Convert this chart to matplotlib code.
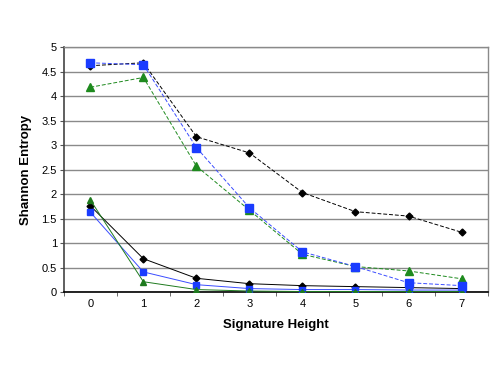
import matplotlib
matplotlib.use("Agg")
import matplotlib.pyplot as plt
import numpy as np

heights = [0, 1, 2, 3, 4, 5, 6, 7]
black_dashed = [4.62, 4.68, 3.17, 2.84, 2.03, 1.64, 1.55, 1.22]
blue_dashed = [4.68, 4.64, 2.95, 1.72, 0.82, 0.52, 0.19, 0.13]
green_dashed = [4.18, 4.38, 2.57, 1.67, 0.77, 0.52, 0.43, 0.27]
black_solid = [1.76, 0.68, 0.28, 0.17, 0.13, 0.11, 0.09, 0.07]
blue_solid = [1.63, 0.41, 0.15, 0.07, 0.05, 0.05, 0.04, 0.04]
green_solid = [1.88, 0.21, 0.05, 0.02, 0.01, 0.01, 0.01, 0.01]
yticks = [0, 0.5, 1, 1.5, 2, 2.5, 3, 3.5, 4, 4.5, 5]
ytick_labels = ["0", "0.5", "1", "1.5", "2", "2.5", "3", "3.5", "4", "4.5", "5"]

plt.rcParams['font.family'] = ['Liberation Sans', 'DejaVu Sans']

fig = plt.figure(figsize=(4.91, 3.68), dpi=100)
ax = fig.add_axes([0.130, 0.2065, 0.864, 0.6655])

x = np.array(heights)
ax.plot(x, black_solid, color='black', lw=0.7, marker='D', ms=3.5, zorder=3)
ax.plot(x, blue_solid, color='#3a4cff', lw=0.7, marker='s', ms=4.5, markerfacecolor='#1a3cff', markeredgecolor='#1a3cff', zorder=3)
ax.plot(x, green_solid, color='#1e7a1e', lw=0.7, marker='^', ms=5, zorder=3)
ax.plot(x, black_dashed, color='black', lw=0.7, ls=(0, (4, 2)), marker='D', ms=3.5, zorder=3)
ax.plot(x, green_dashed, color='#1e8a1e', lw=0.7, ls=(0, (4, 2)), marker='^', ms=5.5, zorder=3)
ax.plot(x, blue_dashed, color='#3a4cff', lw=0.7, ls=(0, (4, 2)), marker='s', ms=6, markerfacecolor='#1a3cff', markeredgecolor='#1a3cff', zorder=4)

ax.set_xlim(-0.5, 7.5)
ax.set_ylim(0, 5)
ax.set_yticks(yticks)
ax.set_yticklabels(ytick_labels, fontsize=8)
ax.set_xticks(x)
ax.set_xticklabels([str(h) for h in heights], fontsize=8)
ax.set_xticks(np.arange(-0.5, 8.0, 1.0), minor=True)
ax.tick_params(axis='x', which='major', length=0, pad=5)
ax.tick_params(axis='x', which='minor', length=3, direction='out', color='#555555')
ax.tick_params(axis='y', length=3, direction='out', color='#555555', pad=2)

ax.yaxis.grid(True, color='#8a8a8a', lw=1.0)
ax.set_axisbelow(True)
for s in ['top', 'right']:
    ax.spines[s].set_color('#8a8a8a')
    ax.spines[s].set_linewidth(1.0)
ax.spines['left'].set_color('#444444')
ax.spines['bottom'].set_color('black')
ax.spines['left'].set_linewidth(1.2)
ax.spines['bottom'].set_linewidth(1.2)

ax.set_xlabel('Signature Height', fontsize=9.5, fontweight='bold', labelpad=7)
ax.set_ylabel('Shannon Entropy', fontsize=9.5, fontweight='bold', labelpad=7)

fig.savefig('out.png', dpi=100)
